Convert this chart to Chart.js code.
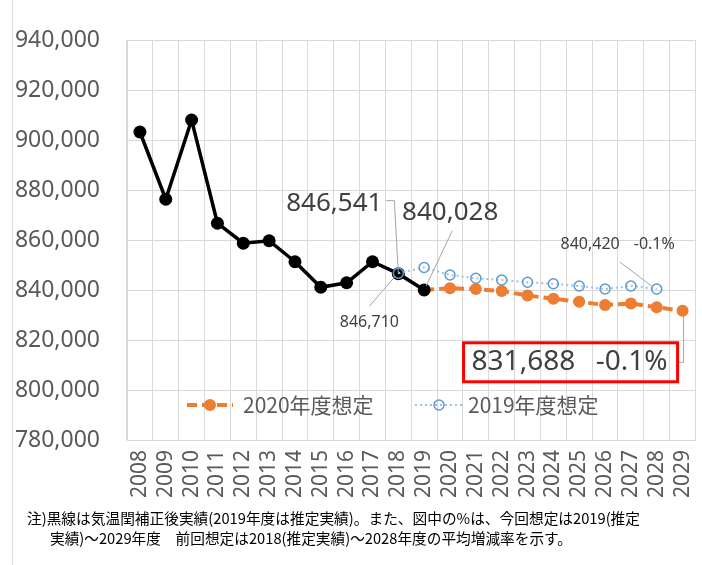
<!DOCTYPE html>
<html lang="ja">
<head>
<meta charset="utf-8">
<script src="https://cdn.jsdelivr.net/npm/chart.js@4.4.1/dist/chart.umd.min.js"></script>
<style>
  body { margin: 0; background: #fff; }
  #wrap { width: 702px; height: 565px; }
</style>
</head>
<body>
<div id="wrap"><canvas id="demand-chart" width="702" height="565"></canvas></div>
<script>
// Fiscal years on the x axis
const years = ['2008', '2009', '2010', '2011', '2012', '2013', '2014', '2015', '2016', '2017', '2018',
    '2019', '2020', '2021', '2022', '2023', '2024', '2025', '2026', '2027', '2028', '2029'];

// Temperature-corrected actuals (2019 = estimated actual)
const actual = [903200, 876300, 908000, 866700, 858700, 859700, 851300, 841100, 842900, 851300, 846541,
    840028, null, null, null, null, null, null, null, null, null, null];

// 2019 forecast (previous)
const plan2019 = [null, null, null, null, null, null, null, null, null, null, 846710,
    849000, 846000, 844700, 844000, 843100, 842500, 841600, 840400, 841600, 840420, null];

// 2020 forecast (current)
const plan2020 = [null, null, null, null, null, null, null, null, null, null, null,
    840028, 840700, 840400, 839600, 837800, 836500, 835300, 834000, 834600, 833100, 831688];

// y axis range
const yMin = 780000;
const yMax = 940000;
const yStep = 20000;

// average growth rates shown in the labels
const rate2019 = '-0.1%';
const rate2020 = '-0.1%';

const legendNames = ['2020年度想定', '2019年度想定'];
const noteLines = [
    '注)黒線は気温閏補正後実績(2019年度は推定実績)。また、図中の%は、今回想定は2019(推定',
    '実績)～2029年度　前回想定は2018(推定実績)～2028年度の平均増減率を示す。'
];

const textColor = '#595959';
const gridColor = '#d9d9d9';
const numFont = '"Noto Sans", sans-serif';
const jpFont = '"Noto Sans CJK JP", sans-serif';

function fmt(v) {
    return v.toLocaleString('en-US');
}

// point pixel helper
function pt(chart, index, value) {
    return {
        x: chart.scales.x.getPixelForValue(index),
        y: chart.scales.y.getPixelForValue(value)
    };
}

function leader(ctx, points) {
    ctx.save();
    ctx.strokeStyle = '#a6a6a6';
    ctx.lineWidth = 1;
    ctx.beginPath();
    ctx.moveTo(points[0][0], points[0][1]);
    for (let i = 1; i < points.length; i++) ctx.lineTo(points[i][0], points[i][1]);
    ctx.stroke();
    ctx.restore();
}

function label(ctx, text, x, y, size, align) {
    ctx.save();
    ctx.fillStyle = '#404040';
    ctx.font = size + 'px ' + numFont;
    ctx.textAlign = align || 'center';
    ctx.textBaseline = 'middle';
    ctx.fillText(text, x, y);
    ctx.restore();
}

// background + outer frame line
const backgroundPlugin = {
    id: 'background',
    beforeDraw(chart) {
        const ctx = chart.ctx;
        ctx.save();
        ctx.fillStyle = '#fff';
        ctx.fillRect(0, 0, chart.width, chart.height);
        ctx.strokeStyle = '#d9d9d9';
        ctx.lineWidth = 1;
        ctx.beginPath();
        ctx.moveTo(12.5, 0);
        ctx.lineTo(12.5, chart.height);
        ctx.stroke();
        ctx.restore();
    }
};

// data labels with leader lines
const labelPlugin = {
    id: 'valueLabels',
    afterDatasetsDraw(chart) {
        const ctx = chart.ctx;
        const i18 = years.indexOf('2018');
        const i19 = years.indexOf('2019');
        const i28 = years.indexOf('2028');
        const i29 = years.indexOf('2029');

        // 2018 actual
        const a18 = pt(chart, i18, actual[i18]);
        leader(ctx, [[a18.x - 12, a18.y - 73], [a18.x - 4, a18.y - 73], [a18.x, a18.y]]);
        label(ctx, fmt(actual[i18]), a18.x - 64, a18.y - 70, 26);

        // 2019 actual
        const a19 = pt(chart, i19, actual[i19]);
        leader(ctx, [[a19.x + 28, a19.y - 59], [a19.x + 2, a19.y - 4]]);
        label(ctx, fmt(actual[i19]), a19.x + 26, a19.y - 77, 26);

        // 2018 in previous forecast
        const b18 = pt(chart, i18, plan2019[i18]);
        leader(ctx, [[b18.x - 29, b18.y + 33], [b18.x - 3, b18.y + 3]]);
        label(ctx, fmt(plan2019[i18]), b18.x - 29, b18.y + 49, 16);

        // 2028 previous forecast
        const b28 = pt(chart, i28, plan2019[i28]);
        leader(ctx, [[b28.x - 37, b28.y - 27], [b28.x - 4, b28.y - 2]]);
        label(ctx, fmt(plan2019[i28]), b28.x - 37, b28.y - 45, 16, 'right');
        label(ctx, rate2019, b28.x - 23, b28.y - 45, 16, 'left');

        // 2029 current forecast in red box
        const c29 = pt(chart, i29, plan2020[i29]);
        const box = { l: c29.x - 219, t: c29.y + 32, r: c29.x - 5, b: c29.y + 71 };
        const midY = (box.t + box.b) / 2;
        leader(ctx, [[box.r, midY], [c29.x + 1, midY], [c29.x + 1, c29.y + 5]]);
        ctx.save();
        ctx.strokeStyle = '#ff0000';
        ctx.lineWidth = 3;
        ctx.strokeRect(box.l, box.t, box.r - box.l, box.b - box.t);
        ctx.restore();
        label(ctx, fmt(plan2020[i29]), box.l + 8, midY, 28, 'left');
        label(ctx, rate2020, box.r - 10, midY, 28, 'right');
    }
};

// legend drawn inside the plot area
const legendPlugin = {
    id: 'insideLegend',
    afterDatasetsDraw(chart) {
        const ctx = chart.ctx;
        const y = chart.chartArea.bottom - 35;
        const items = [
            { ds: chart.data.datasets[2], x0: 187, x1: 233, tx: 243, name: legendNames[0], r: 6 },
            { ds: chart.data.datasets[0], x0: 415, x1: 463, tx: 468, name: legendNames[1], r: 5 }
        ];
        items.forEach(function(it) {
            ctx.save();
            ctx.strokeStyle = it.ds.borderColor;
            ctx.lineWidth = it.ds.borderWidth;
            ctx.setLineDash(it.ds.borderDash);
            ctx.beginPath();
            ctx.moveTo(it.x0, y);
            ctx.lineTo(it.x1, y);
            ctx.stroke();
            ctx.setLineDash([]);
            ctx.beginPath();
            ctx.arc((it.x0 + it.x1) / 2, y, it.r, 0, Math.PI * 2);
            ctx.fillStyle = it.ds.pointBackgroundColor;
            ctx.fill();
            ctx.lineWidth = it.ds.pointBorderWidth;
            ctx.strokeStyle = it.ds.pointBorderColor;
            if (it.ds.pointBorderWidth > 0) ctx.stroke();
            ctx.fillStyle = textColor;
            ctx.font = '21px ' + jpFont;
            ctx.textBaseline = 'middle';
            ctx.fillText(it.name, it.tx, y);
            ctx.restore();
        });
    }
};

// footnote under the chart
const notePlugin = {
    id: 'footnote',
    afterDraw(chart) {
        const ctx = chart.ctx;
        ctx.save();
        ctx.fillStyle = '#000';
        ctx.font = '15px ' + jpFont;
        ctx.textBaseline = 'middle';
        ctx.fillText(noteLines[0], 27, 518, 613);
        ctx.fillText(noteLines[1], 50, 538, 522);
        ctx.restore();
    }
};

const ctx = document.getElementById('demand-chart').getContext('2d');

new Chart(ctx, {
    type: 'line',
    data: {
        labels: years,
        datasets: [
            {
                label: legendNames[1],
                data: plan2019,
                borderColor: '#9dc3e6',
                borderWidth: 2,
                borderDash: [2, 3],
                pointRadius: 5,
                pointBackgroundColor: 'rgba(255,255,255,0)',
                pointBorderColor: '#5b9bd5',
                pointBorderWidth: 1.5,
                order: 0
            },
            {
                label: '実績',
                data: actual,
                borderColor: '#000',
                borderWidth: 3.5,
                pointRadius: 6.5,
                pointBackgroundColor: '#000',
                pointBorderColor: '#000',
                pointBorderWidth: 0,
                order: 1
            },
            {
                label: legendNames[0],
                data: plan2020,
                borderColor: '#ed7d31',
                borderWidth: 4,
                borderDash: [10, 5],
                pointRadius: 6,
                pointBackgroundColor: '#ed7d31',
                pointBorderColor: '#ed7d31',
                pointBorderWidth: 0,
                order: 2
            }
        ]
    },
    options: {
        responsive: false,
        animation: false,
        layout: {
            padding: { left: 0, right: 2, top: 40, bottom: 60 }
        },
        plugins: {
            legend: { display: false },
            tooltip: { enabled: false }
        },
        scales: {
            x: {
                offset: true,
                grid: { offset: true, color: gridColor, drawTicks: false },
                border: { color: gridColor },
                ticks: {
                    color: textColor,
                    font: { family: numFont, size: 21 },
                    minRotation: 90,
                    maxRotation: 90,
                    padding: 10,
                    autoSkip: false
                },
                afterFit(scale) {
                    scale.height = 65;
                    scale.paddingLeft = 0;
                    scale.paddingRight = 0;
                }
            },
            y: {
                min: yMin,
                max: yMax,
                grid: { color: gridColor, drawTicks: false },
                border: { color: gridColor },
                ticks: {
                    stepSize: yStep,
                    color: textColor,
                    font: { family: numFont, size: 23 },
                    padding: 27,
                    callback: function(v) { return fmt(v); }
                },
                afterFit(scale) {
                    scale.width = 127;
                    scale.paddingTop = 0;
                    scale.paddingBottom = 0;
                }
            }
        }
    },
    plugins: [backgroundPlugin, labelPlugin, legendPlugin, notePlugin]
});
</script>
</body>
</html>
